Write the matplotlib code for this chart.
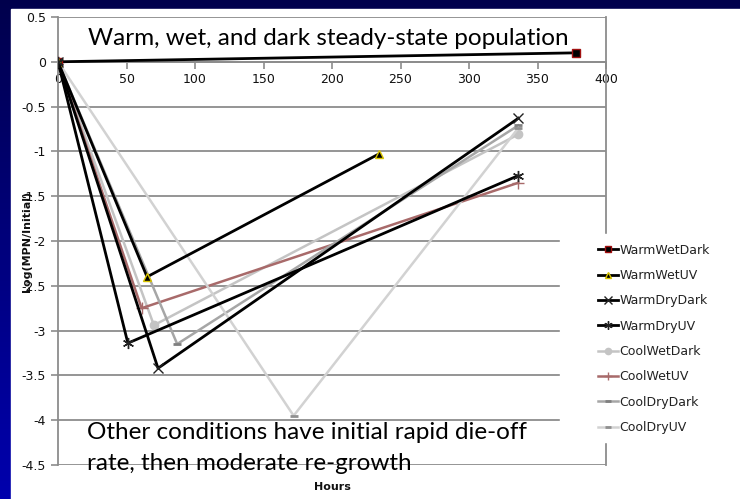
import numpy as np
import matplotlib
matplotlib.use("Agg")
import matplotlib.pyplot as plt
from matplotlib.patches import Rectangle

# ---------------- data ----------------
series_names = ['WarmWetDark', 'WarmWetUV', 'WarmDryDark', 'WarmDryUV',
                'CoolWetDark', 'CoolWetUV', 'CoolDryDark', 'CoolDryUV']

warm_wet_dark_h = [0, 378]
warm_wet_dark_v = [0, 0.1]
warm_wet_uv_h = [0, 65, 234]
warm_wet_uv_v = [0, -2.4, -1.03]
warm_dry_dark_h = [0, 73, 336]
warm_dry_dark_v = [0, -3.42, -0.63]
warm_dry_uv_h = [0, 51, 336]
warm_dry_uv_v = [0, -3.14, -1.27]
cool_wet_dark_h = [0, 70, 336]
cool_wet_dark_v = [0, -2.94, -0.81]
cool_wet_uv_h = [0, 61, 336]
cool_wet_uv_v = [0, -2.75, -1.35]
cool_dry_dark_h = [0, 87, 336]
cool_dry_dark_v = [0, -3.15, -0.71]
cool_dry_uv_h = [0, 172, 336]
cool_dry_uv_v = [0, -3.95, -0.74]

x_ticks = [0, 50, 100, 150, 200, 250, 300, 350, 400]
y_ticks = [0.5, 0, -0.5, -1, -1.5, -2, -2.5, -3, -3.5, -4, -4.5]

W, H = 740, 499
fig = plt.figure(figsize=(W / 100, H / 100), dpi=100)

# ---------------- slide background ----------------
bg = fig.add_axes([0, 0, 1, 1], zorder=-10)
grad = np.linspace(0, 1, 256).reshape(-1, 1)
top_c = np.array([0.0, 0.0, 0.30])
bot_c = np.array([0.0, 0.0, 0.68])
img = top_c + (bot_c - top_c) * grad[:, :, None]
bg.imshow(img, aspect='auto', extent=[0, 1, 0, 1], origin='upper')
bg.add_patch(Rectangle((11 / W, 0), 1, 1 - 9 / H, color='white'))
bg.set_xlim(0, 1)
bg.set_ylim(0, 1)
bg.axis('off')

# ---------------- plot area ----------------
ax = fig.add_axes([58 / W, 34 / H, 548 / W, 448 / H])
ax.set_facecolor('white')

grid_c = '#8c8c8c'
for yv in y_ticks:
    ax.axhline(yv, color=grid_c, lw=1.3, zorder=1)

ax.plot(warm_wet_dark_h, warm_wet_dark_v, color='black', lw=2, marker='s',
        ms=6, mfc='black', mec='#a01010', mew=1, label=series_names[0], zorder=5)
ax.plot(warm_wet_uv_h, warm_wet_uv_v, color='black', lw=2, marker='^',
        ms=6, mfc='black', mec='#d8c400', mew=1, label=series_names[1], zorder=5)
ax.plot(warm_dry_dark_h, warm_dry_dark_v, color='black', lw=2, marker='x',
        ms=7, mec='#222222', mew=1, label=series_names[2], zorder=5)
ax.plot(warm_dry_uv_h, warm_dry_uv_v, color='black', lw=2, marker=(6, 2, 0),
        ms=8, mec='#222222', mew=1, label=series_names[3], zorder=5)
ax.plot(cool_wet_dark_h, cool_wet_dark_v, color='#c4c4c4', lw=1.8, marker='o',
        ms=6, mfc='#c4c4c4', mec='#c4c4c4', label=series_names[4], zorder=4)
ax.plot(cool_wet_uv_h, cool_wet_uv_v, color='#a86a6a', lw=1.8, marker='+',
        ms=8, mec='#a86a6a', mew=1, label=series_names[5], zorder=4)
ax.plot(cool_dry_dark_h, cool_dry_dark_v, color='#a6a6a6', lw=1.8, marker='_',
        ms=6, mec='#808080', mew=2, label=series_names[6], zorder=4)
ax.plot(cool_dry_uv_h, cool_dry_uv_v, color='#d2d2d2', lw=1.8, marker='_',
        ms=6, mec='#909090', mew=2, label=series_names[7], zorder=4)

ax.set_xlim(0, 400)
ax.set_ylim(-4.5, 0.5)
ax.set_xticks(x_ticks)
ax.set_yticks(y_ticks)
ax.set_yticklabels([f'{v:g}' for v in y_ticks])

ax.spines['top'].set_visible(False)
ax.spines['bottom'].set_position(('data', 0))
for side in ['left', 'bottom', 'right']:
    ax.spines[side].set_color(grid_c)
    ax.spines[side].set_linewidth(1.3)
ax.spines['left'].set_zorder(2)
ax.spines['bottom'].set_zorder(2)

ax.tick_params(axis='both', colors=grid_c, labelcolor='#111111',
               labelsize=9, length=5, width=1.2, direction='out')
ax.tick_params(axis='x', pad=3)

ax.set_xlabel('Hours', fontsize=8, fontweight='bold', color='#111111')
ax.xaxis.set_label_coords(0.5, -0.037)
ax.set_ylabel('Log(MPN/Initial)', fontsize=8, fontweight='bold', color='#111111')
ax.yaxis.set_label_coords(-0.048, 0.5)

# ---------------- legend (white box over the plot area) ----------------
fig.patches.append(Rectangle((560 / W, 1 - 442 / H), 180 / W, 208 / H,
                             transform=fig.transFigure, color='white', zorder=10))
leg = fig.legend(loc='upper left', bbox_to_anchor=(598 / W, 1 - 243.5 / H),
                 frameon=False, fontsize=9, handlelength=1.6, handletextpad=0.1,
                 labelspacing=0.99, borderaxespad=0, borderpad=0,
                 markerscale=0.75)
leg.set_zorder(20)
for t in leg.get_texts():
    t.set_color('#222222')

# ---------------- annotations ----------------
note_font = ['Lato', 'DejaVu Sans']
fig.text(88 / W, 1 - 45 / H, 'Warm, wet, and dark steady-state population',
         fontsize=17.5, family=note_font, color='black', va='baseline', zorder=30)
fig.text(87 / W, 1 - 439 / H, 'Other conditions have initial rapid die-off',
         fontsize=17.5, family=note_font, color='black', va='baseline', zorder=30)
fig.text(87 / W, 1 - 470 / H, 'rate, then moderate re-growth',
         fontsize=17.5, family=note_font, color='black', va='baseline', zorder=30)

fig.savefig('out.png', dpi=100)
